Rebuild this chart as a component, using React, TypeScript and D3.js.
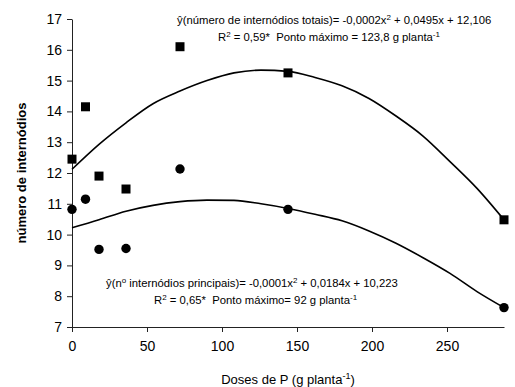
import React, { useEffect, useRef } from "react";
import * as d3 from "d3";

// Doses de P (g planta-1)
const doses = [0, 9, 18, 36, 72, 144, 288];
// número de internódios totais (squares)
const totais = [12.45, 14.15, 11.9, 11.48, 16.1, 15.25, 10.48];
// nº internódios principais (circles)
const principais = [10.82, 11.15, 9.52, 9.55, 12.13, 10.82, 7.63];

// trend lines
const trendDoses = [0, 18, 36, 54, 72, 90, 108, 126, 144, 162, 180, 198, 216, 234, 252, 270, 288];
const trendTotais = [12.12, 12.93, 13.63, 14.25, 14.66, 15.0, 15.25, 15.34, 15.3, 15.1, 14.83, 14.42, 13.85, 13.2, 12.37, 11.5, 10.48];
const trendPrincipais = [10.22, 10.48, 10.76, 10.95, 11.07, 11.12, 11.11, 11.0, 10.85, 10.66, 10.45, 10.12, 9.72, 9.25, 8.74, 8.15, 7.63];

const xTicks = [0, 50, 100, 150, 200, 250];
const yTicks = [7, 8, 9, 10, 11, 12, 13, 14, 15, 16, 17];

const font = "Liberation Sans, Arial, sans-serif";

export default function App() {
  const ref = useRef<SVGSVGElement>(null);

  useEffect(() => {
    const svg = d3.select(ref.current);
    svg.selectAll("*").remove();

    // plot area
    const left = 72, right = 504, top = 19, bottom = 327;

    const x = d3.scaleLinear().domain([0, 288]).range([left, right]);
    const y = d3.scaleLinear().domain([7, 17]).range([bottom, top]);

    // axes
    const xAxis = svg
      .append("g")
      .attr("transform", `translate(0,${bottom})`)
      .call(d3.axisBottom(x).tickValues(xTicks).tickSize(5).tickSizeOuter(0).tickPadding(9));
    const yAxis = svg
      .append("g")
      .attr("transform", `translate(${left},0)`)
      .call(d3.axisLeft(y).tickValues(yTicks).tickSize(5).tickSizeOuter(0).tickPadding(5));

    [xAxis, yAxis].forEach((a) => {
      a.select(".domain").attr("stroke", "#222");
      a.selectAll(".tick line").attr("stroke", "#222");
      a.selectAll(".tick text")
        .attr("font-family", font)
        .attr("font-size", 14)
        .attr("fill", "#000");
    });

    // trend lines
    const line = d3
      .line<number>()
      .x((d, i) => x(trendDoses[i]))
      .y((d) => y(d))
      .curve(d3.curveMonotoneX);

    [trendTotais, trendPrincipais].forEach((s) => {
      svg
        .append("path")
        .attr("d", line(s))
        .attr("fill", "none")
        .attr("stroke", "#000")
        .attr("stroke-width", 1.6);
    });

    // points
    const sq = 9;
    svg
      .selectAll("rect.pt")
      .data(totais)
      .join("rect")
      .attr("class", "pt")
      .attr("x", (d, i) => x(doses[i]) - sq / 2)
      .attr("y", (d) => y(d) - sq / 2)
      .attr("width", sq)
      .attr("height", sq)
      .attr("fill", "#000");

    svg
      .selectAll("circle.pt")
      .data(principais)
      .join("circle")
      .attr("class", "pt")
      .attr("cx", (d, i) => x(doses[i]))
      .attr("cy", (d) => y(d))
      .attr("r", 4.7)
      .attr("fill", "#000");

    // axis titles
    const xt = svg
      .append("text")
      .attr("x", (left + right) / 2)
      .attr("y", 384)
      .attr("text-anchor", "middle")
      .attr("font-family", font)
      .attr("font-size", 13)
      .text("Doses de P (g planta");
    xt.append("tspan").attr("dy", -5).attr("font-size", 9).text("-1");
    xt.append("tspan").attr("dy", 5).text(")");

    svg
      .append("text")
      .attr("transform", `translate(26,${(top + bottom) / 2}) rotate(-90)`)
      .attr("text-anchor", "middle")
      .attr("font-family", font)
      .attr("font-size", 13)
      .attr("font-weight", "bold")
      .text("número de internódios");

    // equations
    function eq(xp: number, yp: number, parts: [string, boolean][]) {
      const t = svg
        .append("text")
        .attr("x", xp)
        .attr("y", yp)
        .attr("font-family", font)
        .attr("font-size", 11.3)
        .style("white-space", "pre")
        .attr("fill", "#000");
      let up = false;
      parts.forEach(([s, sup]) => {
        const sp = t.append("tspan").text(s);
        if (sup && !up) sp.attr("dy", -4);
        if (!sup && up) sp.attr("dy", 4);
        if (sup) sp.attr("font-size", 8);
        up = sup;
      });
    }

    eq(177, 24, [
      ["ŷ(número de internódios totais)= -0,0002x", false],
      ["2", true],
      [" + 0,0495x + 12,106", false],
    ]);
    eq(218, 41, [
      ["R", false],
      ["2", true],
      [" = 0,59*  Ponto máximo = 123,8 g planta", false],
      ["-1", true],
    ]);
    eq(106, 287, [
      ["ŷ(n", false],
      ["o", true],
      [" internódios principais)= -0,0001x", false],
      ["2", true],
      [" + 0,0184x + 10,223", false],
    ]);
    eq(154, 304, [
      ["R", false],
      ["2", true],
      [" = 0,65*  Ponto máximo= 92 g planta", false],
      ["-1", true],
    ]);
  }, []);

  return (
    <svg
      ref={ref}
      width={515}
      height={387}
      style={{ position: "absolute", left: 0, top: 0, background: "#fff" }}
    ></svg>
  );
}
